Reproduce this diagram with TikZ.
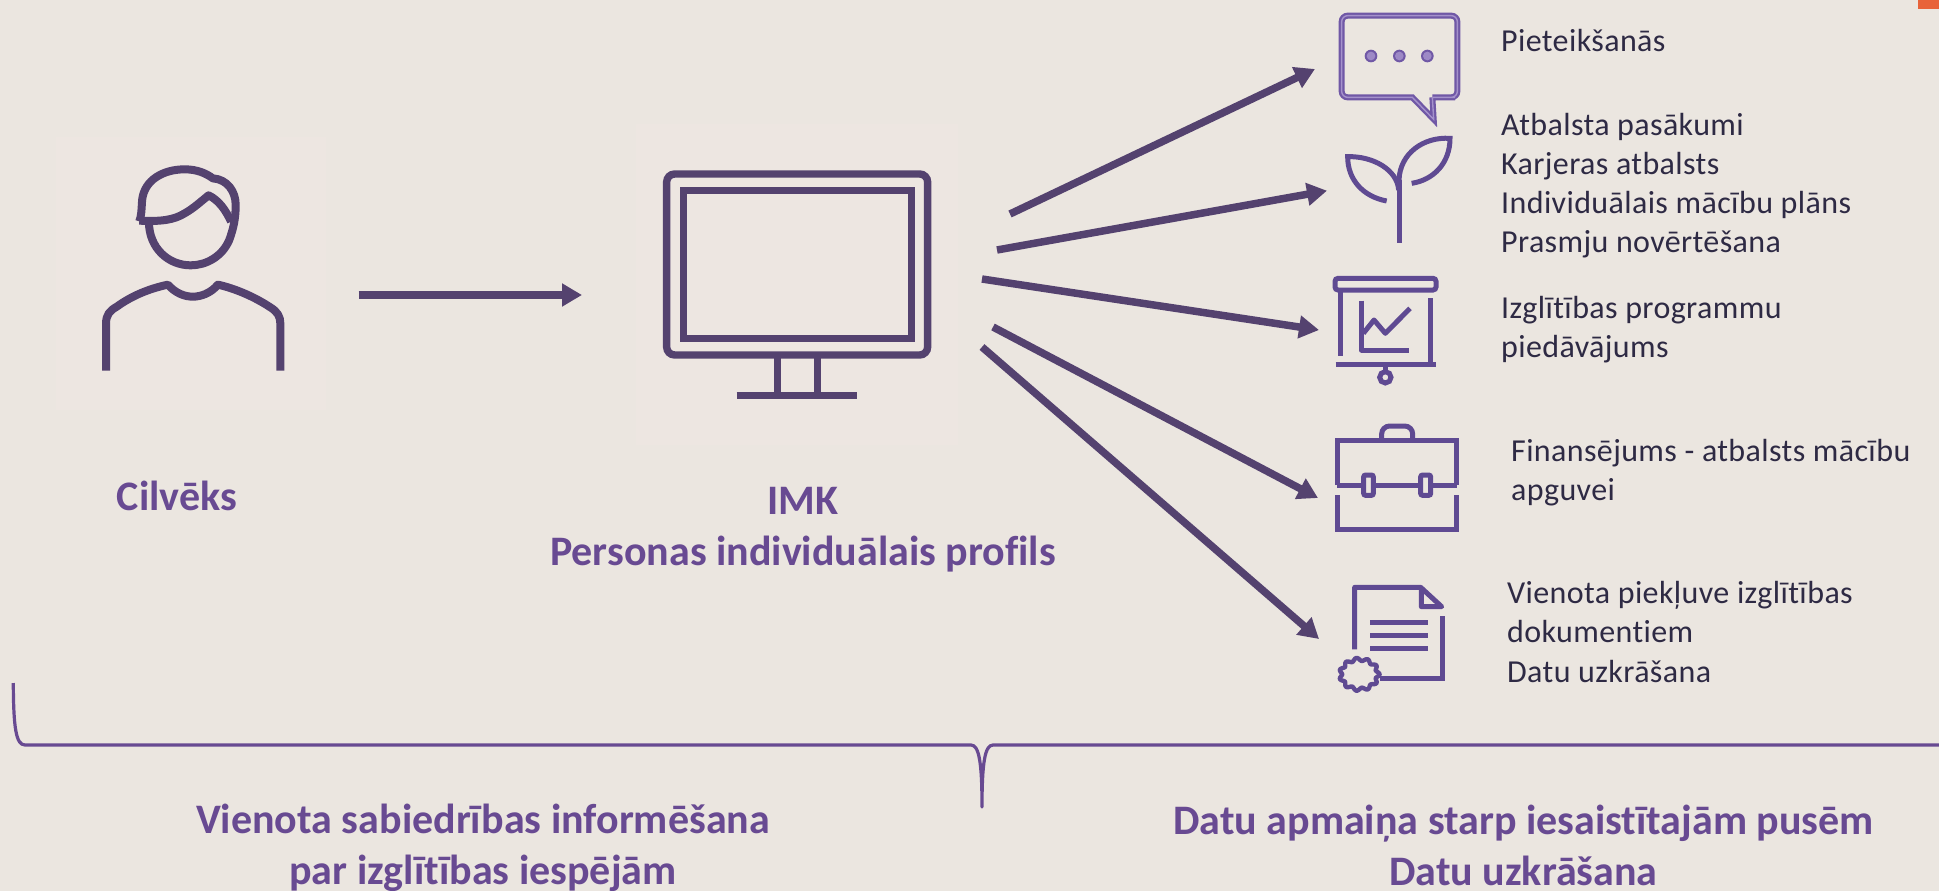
\documentclass[tikz,border=0pt]{standalone}
\usepackage{fontspec}
\setmainfont[Ligatures=NoCommon]{Carlito}
\newfontfamily\bodyfont[Ligatures=NoCommon,LetterSpace=1.2]{Carlito}
\usetikzlibrary{arrows.meta}
\definecolor{bgc}{HTML}{EBE6E0}
\definecolor{tintc}{HTML}{EDE6E1}
\definecolor{darkp}{HTML}{54426F}
\definecolor{iconp}{HTML}{5F4A92}
\definecolor{chatp}{HTML}{7058A6}
\definecolor{chatl}{HTML}{A592CC}
\definecolor{labelp}{HTML}{684A92}
\definecolor{textc}{HTML}{2E2A44}
\definecolor{orangec}{HTML}{E8633A}
\tikzset{
  arrowline/.style={draw=darkp,line width=7.5pt,-{Triangle[length=20pt,width=22pt]}},
  bigicon/.style={draw=darkp,line width=7.4pt},
  personline/.style={draw=darkp,line width=8pt,line join=round},
  smallicon/.style={draw=iconp,line width=5pt},
  bodytext/.style={anchor=north west,align=left,inner sep=0pt,text=textc,font=\bodyfont\fontsize{32}{39.2}\selectfont},
  headtext/.style={anchor=center,align=center,inner sep=0pt,text=labelp,font=\fontsize{42}{51}\selectfont\bfseries},
  bracel/.style={draw=labelp,line width=3.2pt}
}
\begin{document}
\begin{tikzpicture}[x=1pt,y=-1pt]
\useasboundingbox (0,0) rectangle (1939,891);
\fill[bgc] (0,0) rectangle (1939,891);
\fill[orangec] (1918,0) rectangle (1939,9);
\fill[tintc] (56,137) rectangle (326,410);
\fill[tintc] (636,124) rectangle (958,445);
% person
\begin{scope}[shift={(40,120)},xscale=1/2.8,yscale=1/3]
\draw[personline] (278,304) .. controls (284,290) and (284,270) .. (286,240)
  .. controls (292,180) and (345,148) .. (405,148)
  .. controls (440,148) and (465,160) .. (484,175)
  .. controls (525,178) and (548,215) .. (548,255)
  .. controls (548,300) and (540,330) .. (530,360)
  .. controls (510,410) and (465,436) .. (422,436)
  .. controls (360,436) and (305,385) .. (305,305);
\draw[personline] (278,302) .. controls (340,305) and (375,300) .. (405,280)
  .. controls (430,265) and (450,245) .. (472,226)
  .. controls (500,240) and (520,270) .. (535,305);
\draw[personline] (185,752) -- (185,610) .. controls (185,585) and (195,572) .. (215,560)
  .. controls (260,525) and (310,505) .. (358,494)
  .. controls (380,520) and (405,530) .. (428,530)
  .. controls (450,530) and (478,520) .. (498,494)
  .. controls (545,505) and (600,530) .. (645,562)
  .. controls (665,575) and (673,590) .. (673,610) -- (673,752);
\end{scope}
% monitor
\begin{scope}[shift={(620,120)},scale=1/3]
\draw[bigicon] (140,162) [rounded corners=8pt] rectangle (923,705);
\draw[bigicon] (190,212) rectangle (874,655);
\draw[bigicon] (472,705) -- (472,826);
\draw[bigicon] (592,705) -- (592,826);
\draw[bigicon] (350,826) -- (712,826);
\end{scope}
% chat
\begin{scope}[shift={(1300,0)},scale=1/3]
\foreach \c/\w in {chatp/6pt,chatl/1.4pt}{
\draw[draw=\c,line width=\w,line join=miter] (397,292) -- (465,292) [rounded corners=6pt] -- (472,292) -- (472,47) -- (125,47) -- (125,292) [sharp corners] -- (337,292) -- (401,358) -- (397,292);
}
\foreach \x in {213,298,382}{\fill[chatp] (\x,168) circle (19); \fill[chatl!85!chatp] (\x,168) circle (13);}
\end{scope}
% plant
\begin{scope}[shift={(1300,0)},scale=1/3]
\draw[smallicon] (297,728) -- (297,540);
\draw[smallicon] (260,603) .. controls (190,590) and (143,540) .. (143,470)
  .. controls (220,468) and (292,510) .. (296,570);
\draw[smallicon] (335,550) .. controls (400,540) and (450,490) .. (450,415)
  .. controls (370,410) and (300,460) .. (297,540);
\end{scope}
% presentation
\begin{scope}[shift={(1300,260)},scale=1/3]
\draw[smallicon,rounded corners=3pt] (105,55) rectangle (408,90);
\draw[smallicon] (121,92) -- (121,287);
\draw[smallicon] (392,115) -- (392,312);
\draw[smallicon] (107,312) -- (407,312);
\draw[smallicon] (256,312) -- (256,336);
\draw[smallicon] (256,352) circle (17);
\draw[smallicon,line join=round] (184,122) -- (184,270) -- (328,270);
\draw[smallicon,line join=round] (190,220) -- (222,180) -- (256,220) -- (330,145);
\end{scope}
% briefcase
\begin{scope}[shift={(1300,260)},scale=1/3]
\draw[smallicon] (112,675) -- (112,542) -- (470,542) -- (470,675);
\draw[smallicon] (112,675) -- (190,675) (222,675) -- (362,675) (392,675) -- (470,675);
\draw[smallicon,rounded corners=2pt] (191,645) rectangle (220,706);
\draw[smallicon,rounded corners=2pt] (362,645) rectangle (392,706);
\draw[smallicon] (112,705) -- (112,808) -- (470,808) -- (470,705);
\draw[smallicon,rounded corners=8pt] (245,540) -- (245,498) -- (338,498) -- (338,540);
\end{scope}
% document
\begin{scope}[shift={(1300,550)},scale=1/3]
\draw[smallicon,line join=round] (164,298) -- (164,112) -- (362,112) -- (425,170) -- (364,170) -- (364,112);
\draw[smallicon] (426,198) -- (426,385) -- (240,385);
\draw[smallicon] (210,218) -- (384,218);
\draw[smallicon] (210,257) -- (384,257);
\draw[smallicon] (210,295) -- (384,295);
\draw[smallicon,line width=4.4pt] plot[domain=0:357,samples=120,smooth cycle] ({178+(56+4.5*cos(11*\x))*cos(\x)},{373+(45+4.5*cos(11*\x))*sin(\x)});
\end{scope}
% connectors
\coordinate (p1) at (358.6,295); \coordinate (p2) at (582,295);
\draw[arrowline] (p1) -- (p2);
\coordinate (s1) at (1010,214); \coordinate (t1) at (1315,69);
\coordinate (s2) at (997,250);  \coordinate (t2) at (1327,190.7);
\coordinate (s3) at (982,279);  \coordinate (t3) at (1319,330);
\coordinate (s4) at (993,327);  \coordinate (t4) at (1318,498);
\coordinate (s5) at (982,347);  \coordinate (t5) at (1319,639);
\draw[arrowline] (s1) -- (t1);
\draw[arrowline] (s2) -- (t2);
\draw[arrowline] (s3) -- (t3);
\draw[arrowline] (s4) -- (t4);
\draw[arrowline] (s5) -- (t5);
% brace
\coordinate (bl) at (13.3,683); \coordinate (bc) at (982,807); \coordinate (br) at (1939,745);
\draw[bracel,line join=round] (bl) .. controls (13.5,728) and (16,745) .. (25,745) -- (971,745)
  .. controls (979,745) and (982,762) .. (bc) .. controls (982,762) and (985,745) .. (993,745) -- (br);
% labels
\node[headtext] (cilveks) at (177,496) {Cilvēks};
\node[headtext] (imk) at (803,530) {IMK\\Personas individuālais profils};
\node[headtext] (info) at (483,847.5) {Vienota sabiedrības informēšana\\par izglītības iespējām};
\node[headtext] (datu) at (1523.5,845) {Datu apmaiņa starp iesaistītajām pusēm\\Datu uzkrāšana};
\node[bodytext] (a) at (1501,23.6) {\strut Pieteikšanās};
\node[bodytext] (b) at (1501,107.6) {\strut Atbalsta pasākumi\\Karjeras atbalsts\\Individuālais mācību plāns\\Prasmju novērtēšana};
\node[bodytext] (c) at (1501,290.6) {\strut Izglītības programmu\\piedāvājums};
\node[bodytext] (d) at (1511,433.6) {\strut Finansējums - atbalsts mācību\\apguvei};
\node[bodytext] (e) at (1507,576) {\strut Vienota piekļuve izglītības\\dokumentiem\\Datu uzkrāšana};
\end{tikzpicture}
\end{document}
